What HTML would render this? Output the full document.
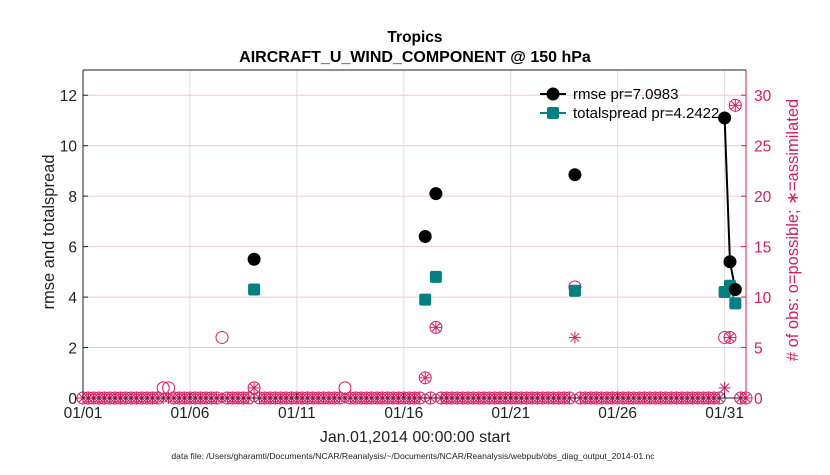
<!DOCTYPE html>
<html><head><meta charset="utf-8"><style>
body{margin:0;background:#fff;font-family:"Liberation Sans",sans-serif}
svg text{font-family:"Liberation Sans",sans-serif}
</style></head><body>
<svg id="chart" width="830" height="470" xmlns="http://www.w3.org/2000/svg">
<rect width="830" height="470" fill="#fff"/>
<g id="grid"></g><g id="marks"></g><g id="axes"></g>
<text x="415" y="42" text-anchor="middle" font-size="15.5" font-weight="bold">Tropics</text>
<text x="415" y="62" text-anchor="middle" font-size="16" font-weight="bold">AIRCRAFT_U_WIND_COMPONENT @ 150 hPa</text>
<text x="415" y="442" text-anchor="middle" font-size="16" fill="#222">Jan.01,2014 00:00:00 start</text>
<text x="413" y="459" text-anchor="middle" font-size="8.6" fill="#222">data file: /Users/gharamti/Documents/NCAR/Reanalysis/~/Documents/NCAR/Reanalysis/webpub/obs_diag_output_2014-01.nc</text>
<text transform="translate(54,232) rotate(-90)" text-anchor="middle" font-size="16.5" fill="#222">rmse and totalspread</text>
<text transform="translate(798,230) rotate(-90)" text-anchor="middle" font-size="16.5" fill="#d81b60"># of obs: o=possible; ∗=assimilated</text>
<g id="legend">
<line x1="540" y1="94" x2="566" y2="94" stroke="#000" stroke-width="2"/>
<circle cx="553" cy="94" r="6.5" fill="#000"/>
<text x="573" y="99" font-size="15">rmse pr=7.0983</text>
<line x1="540" y1="113" x2="566" y2="113" stroke="#008080" stroke-width="2"/>
<rect x="547" y="107" width="12" height="12" rx="2" fill="#008080"/>
<text x="573" y="118" font-size="15">totalspread pr=4.2422</text>
</g>
</svg>
<script>
const days = [8.0, 16.0, 16.5, 23.0, 30.0, 30.25, 30.5];
const rmse = [5.5, 6.4, 8.1, 8.85, 11.1, 5.4, 4.3];
const spread = [4.3, 3.9, 4.8, 4.25, 4.2, 4.45, 3.75];
const obsDays = [3.75, 4.0, 6.5, 8.0, 12.25, 16.0, 16.5, 23.0, 30.0, 30.25, 30.5];
const obsPossible = [1, 1, 6, 1, 1, 2, 7, 11, 6, 6, 29];
const obsAssim = [0, 0, 0, 1, 0, 2, 7, 6, 1, 6, 29];
const xTickDays = [0, 5, 10, 15, 20, 25, 30];
const xTickLabels = ['01/01','01/06','01/11','01/16','01/21','01/26','01/31'];
const leftTicks = [0, 2, 4, 6, 8, 10, 12];
const rightTicks = [0, 5, 10, 15, 20, 25, 30];

const L=83,R=746,T=70,B=398, RED='#d81b60', NS='http://www.w3.org/2000/svg';
const xS=d=>L+(d/31)*(R-L);
const yL=v=>B-(v/13)*(B-T);
const yR=v=>B-(v/32.5)*(B-T);
function mk(tag,attrs,parent){const e=document.createElementNS(NS,tag);for(const k in attrs)e.setAttribute(k,attrs[k]);parent.appendChild(e);return e;}
const grid=document.getElementById('grid'),marks=document.getElementById('marks'),axes=document.getElementById('axes');
xTickDays.forEach((d,i)=>{
  const g=mk('line',{x1:xS(d),x2:xS(d),y1:T,y2:B,stroke:'#ddd','stroke-width':1},grid);
  
  
  const t=mk('text',{x:xS(d),y:B+20,'text-anchor':'middle','font-size':15.5,fill:'#222'},axes);
  t.textContent=xTickLabels[i];
  
  
  mk('line',{x1:xS(d),x2:xS(d),y1:B,y2:B-5,stroke:'#222'},axes);
});
rightTicks.forEach(v=>{
  const g=mk('line',{x1:L,x2:R,y1:yR(v),y2:yR(v),stroke:'#f5c6d8','stroke-width':1},grid);
  
  
  const t=mk('text',{x:R+8,y:yR(v)+6,'font-size':15.5,fill:RED},axes);
  t.textContent=v;
  
  
  mk('line',{x1:R,x2:R-5,y1:yR(v),y2:yR(v),stroke:RED},axes);
});
leftTicks.forEach(v=>{
  const t=mk('text',{x:L-6,y:yL(v)+6,'text-anchor':'end','font-size':15.5,fill:'#222'},axes);
  t.textContent=v;
  
  
  mk('line',{x1:L,x2:L+5,y1:yL(v),y2:yL(v),stroke:'#222'},axes);
});
mk('line',{x1:L,x2:L,y1:T,y2:B,stroke:'#222'},axes);
mk('line',{x1:L,x2:R,y1:T,y2:T,stroke:'#222'},axes);
mk('line',{x1:L,x2:R,y1:B,y2:B,stroke:'#222'},axes);
mk('line',{x1:R,x2:R,y1:T,y2:B,stroke:RED},axes);

function star(x,y,parent){
  for(let a=0;a<4;a++){const an=a*Math.PI/4,r=6;
    mk('line',{x1:x-r*Math.cos(an),y1:y-r*Math.sin(an),x2:x+r*Math.cos(an),y2:y+r*Math.sin(an),stroke:RED,'stroke-width':1},parent);}
}
for(let k=0;k<=124;k++){
  const d=k*0.25; const idx=obsDays.indexOf(d);
  const p= idx>=0?obsPossible[idx]:0, a= idx>=0?obsAssim[idx]:0;
  const g=mk('g',{},marks);
  
  
  mk('circle',{cx:xS(d),cy:yR(p),r:6,fill:'none',stroke:RED,'stroke-width':1},g);
  star(xS(d),yR(a),g);
}
for(let i=1;i<days.length;i++){
  if(Math.abs(days[i]-days[i-1]-0.25)<1e-6){
    const l=mk('line',{x1:xS(days[i-1]),y1:yL(rmse[i-1]),x2:xS(days[i]),y2:yL(rmse[i]),stroke:'#000','stroke-width':2},marks);
    
    
    const s=mk('line',{x1:xS(days[i-1]),y1:yL(spread[i-1]),x2:xS(days[i]),y2:yL(spread[i]),stroke:'#008080','stroke-width':2},marks);
    
    
  }
}
days.forEach((d,i)=>{
  const c=mk('circle',{cx:xS(d),cy:yL(rmse[i]),r:6.5,fill:'#000'},marks);
  
  
  const s=mk('rect',{x:xS(d)-6,y:yL(spread[i])-6,width:12,height:12,rx:2,fill:'#008080'},marks);
  
  
});
</script>
</body></html>
